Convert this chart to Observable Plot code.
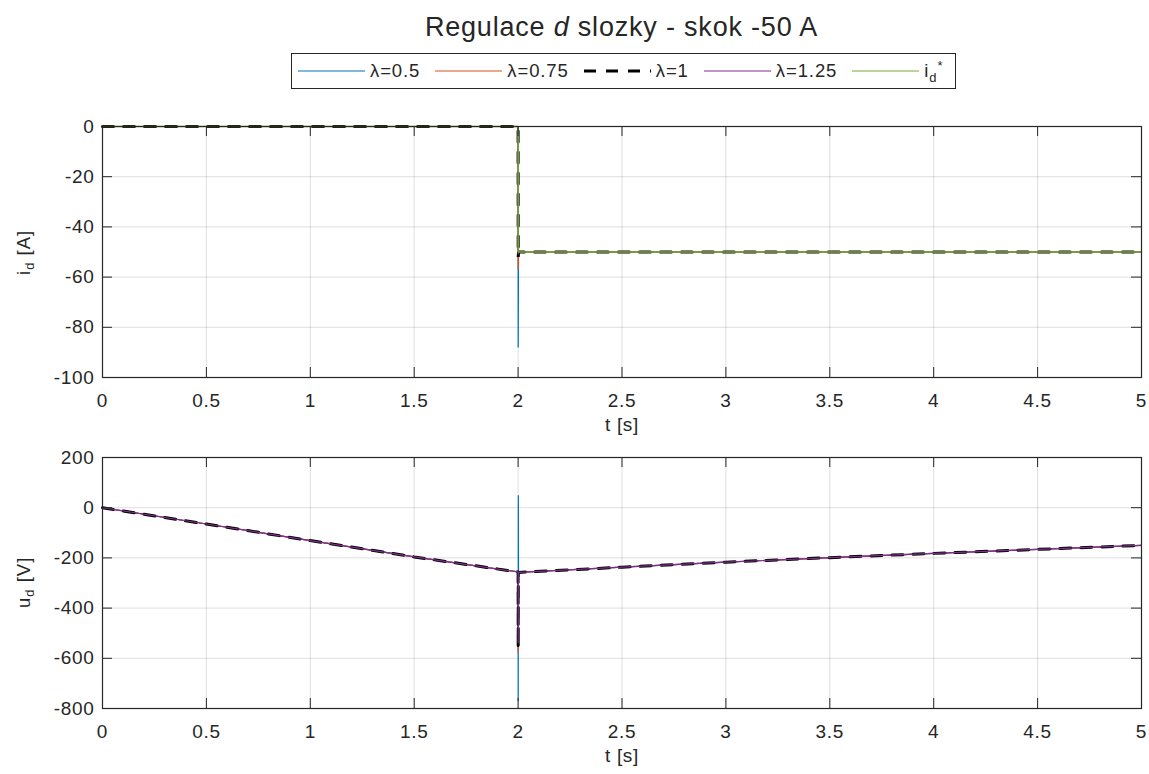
<!DOCTYPE html>
<html>
<head>
<meta charset="utf-8">
<script src="https://cdn.jsdelivr.net/npm/d3@7"></script>
<script src="https://cdn.jsdelivr.net/npm/@observablehq/plot@0.6"></script>
<style>
  body { margin: 0; background: #fff; }
  #fig { position: relative; width: 1149px; height: 774px; overflow: hidden;
         font-family: "Liberation Sans", Arial, sans-serif; color: #262626; }
  .abs { position: absolute; }
  #title { left: 0; width: 1243px; top: 12px; text-align: center; font-size: 27px; line-height: 30px;
           letter-spacing: 0.8px; white-space: nowrap; }
  #legend { left: 291px; top: 53px; width: 657px; height: 34px; border: 1px solid #262626;
            display: flex; align-items: center; gap: 15px; padding-left: 6px; box-sizing: content-box;
            font-size: 18.5px; letter-spacing: 0.9px; white-space: nowrap; }
  .item { display: flex; align-items: center; gap: 5px; }
  .ylab { font-size: 18.5px; letter-spacing: 1px; white-space: nowrap; transform-origin: center center; }
  sub, sup { font-size: 70%; }
</style>
</head>
<body>
<div id="fig">
  <div id="title" class="abs">Regulace <i>d</i> slozky - skok -50 A</div>
  <div id="legend" class="abs"></div>
  <div id="top" class="abs" style="left:0;top:100px"></div>
  <div id="bottom" class="abs" style="left:0;top:430px"></div>
  <div class="abs ylab" style="left:-15px;top:240px;width:80px;text-align:center;transform:rotate(-90deg)">i<sub>d</sub> [A]</div>
  <div class="abs ylab" style="left:-15px;top:570px;width:80px;text-align:center;transform:rotate(-90deg)">u<sub>d</sub> [V]</div>
</div>
<script>
// Series names and line styles
const seriesNames = ["λ=0.5", "λ=0.75", "λ=1", "λ=1.25"];
const seriesColors = ["#0072BD", "#D95319", "#000000", "#7E2F8E"];
const refName = "i_d*";
const refColor = "#77AC30";

// Time axis ticks
const xTicks = [0, 0.5, 1, 1.5, 2, 2.5, 3, 3.5, 4, 4.5, 5];

// d-axis current i_d [A]
const tCurrent = [0, 2, 2.0005, 2.002, 5];
const iD_05 = [0, 0, -88, -50, -50];
const iD_075 = [0, 0, -57, -50, -50];
const iD_1 = [0, 0, -52, -50, -50];
const iD_125 = [0, 0, -51, -50, -50];
const tRef = [0, 2, 2, 5];
const iRef = [0, 0, -50, -50];
const iTicks = [-100, -80, -60, -40, -20, 0];

// d-axis voltage u_d [V]
const tVoltage = [0, 0.5, 1, 1.5, 2, 2.0005, 2.001, 2.002, 2.5, 3, 3.5, 4, 4.5, 5];
const uD_05 = [0, -65, -131, -196, -256, -770, 50, -258, -237, -217, -199, -182, -166, -150];
const uD_075 = [0, -65, -131, -196, -256, -580, -262, -258, -237, -217, -199, -182, -166, -150];
const uD_1 = [0, -65, -131, -196, -256, -557, -260, -258, -237, -217, -199, -182, -166, -150];
const uD_125 = [0, -65, -131, -196, -256, -540, -259, -258, -237, -217, -199, -182, -166, -150];
const uTicks = [-800, -600, -400, -200, 0, 200];

const zip = (ts, vs) => ts.map((t, i) => ({t, v: vs[i]}));

const W = 1149, ML = 102, MR = 8, TICK = 10;
const dashed = "11,10";

function lineMark(data, color) {
  const isDash = color === "#000000";
  return Plot.line(data, {
    x: "t", y: "v", stroke: color,
    strokeWidth: isDash ? 3 : 1.2,
    strokeDasharray: isDash ? dashed : null,
    strokeLinejoin: "miter"
  });
}

function panel({height, marginTop, marginBottom, yDomain, yTicks, lines}) {
  const plotW = W - ML - MR;
  const plotH = height - marginTop - marginBottom;
  const fmt = d => String(d);
  return Plot.plot({
    width: W, height, marginLeft: ML, marginRight: MR, marginTop, marginBottom,
    style: {background: "transparent", fontFamily: "'Liberation Sans', Arial, sans-serif", fontSize: "19px",
            letterSpacing: "0.7px", color: "#262626", overflow: "visible"},
    x: {domain: [0, 5]},
    y: {domain: yDomain},
    marks: [
      Plot.gridX(xTicks, {stroke: "#262626", strokeOpacity: 0.15, strokeWidth: 1}),
      Plot.gridY(yTicks, {stroke: "#262626", strokeOpacity: 0.15, strokeWidth: 1}),
      ...lines,
      Plot.frame({stroke: "#262626", strokeWidth: 1.2}),
      // inward ticks on all four sides
      Plot.tickX(xTicks, {x: d => d, insetTop: plotH - TICK, stroke: "#262626"}),
      Plot.tickX(xTicks, {x: d => d, insetBottom: plotH - TICK, stroke: "#262626"}),
      Plot.tickY(yTicks, {y: d => d, insetRight: plotW - TICK, stroke: "#262626"}),
      Plot.tickY(yTicks, {y: d => d, insetLeft: plotW - TICK, stroke: "#262626"}),
      Plot.axisX(xTicks, {tickSize: 0, tickPadding: 16, tickFormat: fmt, label: null}),
      Plot.axisY(yTicks, {tickSize: 0, tickPadding: 8, tickFormat: fmt, label: null}),
      Plot.text(["t [s]"], {frameAnchor: "bottom", dy: 53, text: d => d, fontSize: 19, fill: "#262626"})
    ]
  });
}

const currents = [iD_05, iD_075, iD_1, iD_125];
const voltages = [uD_05, uD_075, uD_1, uD_125];

document.getElementById("top").append(panel({
  height: 350, marginTop: 26, marginBottom: 73,
  yDomain: [-100, 0], yTicks: iTicks,
  lines: [
    ...currents.map((vs, k) => lineMark(zip(tCurrent, vs), seriesColors[k])),
    Plot.line(zip(tRef, iRef), {x: "t", y: "v", stroke: refColor, strokeWidth: 1.5})
  ]
}));

document.getElementById("bottom").append(panel({
  height: 344, marginTop: 27, marginBottom: 66,
  yDomain: [-800, 200], yTicks: uTicks,
  lines: voltages.map((vs, k) => lineMark(zip(tVoltage, vs), seriesColors[k]))
}));

// Legend
const legend = document.getElementById("legend");
const entries = seriesNames.map((name, k) => ({name, color: seriesColors[k]}))
  .concat([{name: refName, color: refColor}]);
for (const e of entries) {
  const item = document.createElement("div");
  item.className = "item";
  const isDash = e.color === "#000000";
  const ns = "http://www.w3.org/2000/svg";
  const svg = document.createElementNS(ns, "svg");
  svg.setAttribute("width", 67); svg.setAttribute("height", 10);
  const ln = document.createElementNS(ns, "line");
  ln.setAttribute("x1", 0); ln.setAttribute("x2", 67);
  ln.setAttribute("y1", 5); ln.setAttribute("y2", 5);
  ln.setAttribute("stroke", e.color);
  ln.setAttribute("stroke-width", isDash ? 3 : 1.2);
  if (isDash) ln.setAttribute("stroke-dasharray", "12,10");
  svg.append(ln);
  const lab = document.createElement("span");
  if (e.name === refName) lab.innerHTML = "i<sub>d</sub><sup>*</sup>";
  else lab.textContent = e.name;
  item.append(svg, lab);
  legend.append(item);
}
</script>
</body>
</html>
